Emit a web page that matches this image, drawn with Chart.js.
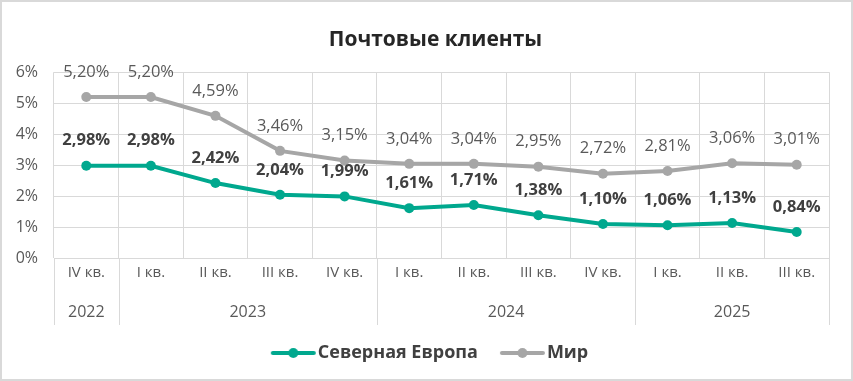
<!DOCTYPE html>
<html><head><meta charset="utf-8">
<script src="https://cdn.jsdelivr.net/npm/chart.js@4/dist/chart.umd.min.js"></script>
<style>html,body{margin:0;padding:0;background:#fff;}#wrap{width:853px;height:381px;position:relative;}</style>
</head><body><div id="wrap"><canvas id="c" width="853" height="381"></canvas></div>
<script>
const quarterLabels = ['IV кв.','I кв.','II кв.','III кв.','IV кв.','I кв.','II кв.','III кв.','IV кв.','I кв.','II кв.','III кв.'];
const yearLabels = ['2022','2023','2024','2025'];
const yearSpans = [1,4,4,3];
const northEurope = [2.98,2.98,2.42,2.04,1.99,1.61,1.71,1.38,1.10,1.06,1.13,0.84];
const world = [5.20,5.20,4.59,3.46,3.15,3.04,3.04,2.95,2.72,2.81,3.06,3.01];
const yTicks = [0,1,2,3,4,5,6];

const FONT = "'Open Sans', sans-serif";
const TEAL = '#00A88E';
const GRAY = '#A6A6A6';
const GRID = '#D9D9D9';
const TXT = '#595959';

function legendIcon(color){
  const c = document.createElement('canvas');
  c.width = 64; c.height = 12;
  const g = c.getContext('2d');
  g.strokeStyle = color; g.lineWidth = 4; g.lineCap = 'round';
  g.beginPath(); g.moveTo(19,6); g.lineTo(60,6); g.stroke();
  g.fillStyle = color; g.beginPath(); g.arc(39.5,6,5,0,Math.PI*2); g.fill();
  return c;
}
const fmt = v => v.toFixed(2).replace('.', ',') + '%';

const borderPlugin = {
  id:'border',
  afterLayout(chart){
    if (chart.titleBlock) { chart.titleBlock.left += 21; chart.titleBlock.right += 21; }
    if (chart.legend) { chart.legend.left += 11; chart.legend.right += 11; }
  },
  beforeDraw(chart){
    const ctx = chart.ctx;
    ctx.save();
    ctx.strokeStyle = GRID; ctx.lineWidth = 2;
    ctx.strokeRect(1,1,chart.width-2,chart.height-2);
    ctx.restore();
  }
};

const axisPlugin = {
  id:'multiAxis',
  afterDraw(chart){
    const ctx = chart.ctx, x = chart.scales.x, a = chart.chartArea;
    const step = (a.right - a.left) / quarterLabels.length;
    ctx.save();
    ctx.fillStyle = TXT;
    ctx.font = "15px " + FONT;
    ctx.textAlign = 'center'; ctx.textBaseline = 'middle';
    quarterLabels.forEach((q,i)=>{
      ctx.fillText(q, x.getPixelForValue(i), a.bottom + 15);
    });
    ctx.font = "16px " + FONT;
    ctx.strokeStyle = GRID; ctx.lineWidth = 1;
    let idx = 0;
    const bottom = a.bottom + 67;
    const drawV = px => { ctx.beginPath(); ctx.moveTo(Math.round(px)+0.5, a.bottom); ctx.lineTo(Math.round(px)+0.5, bottom); ctx.stroke(); };
    drawV(a.left);
    yearLabels.forEach((y,k)=>{
      const start = a.left + idx*step;
      idx += yearSpans[k];
      const end = a.left + idx*step;
      drawV(end);
      ctx.fillText(y, (start+end)/2, a.bottom + 54);
    });
    ctx.restore();
  }
};

const labelPlugin = {
  id:'valueLabels',
  afterDatasetsDraw(chart){
    const ctx = chart.ctx;
    ctx.save();
    ctx.textAlign = 'center'; ctx.textBaseline = 'middle';
    chart.data.datasets.forEach((ds,di)=>{
      const meta = chart.getDatasetMeta(di);
      ctx.font = (di===0 ? "bold " : "") + "16.5px " + FONT;
      ctx.fillStyle = di===0 ? '#404040' : TXT;
      meta.data.forEach((pt,i)=>{
        ctx.fillText(fmt(ds.data[i]), pt.x, pt.y - 25);
      });
    });
    ctx.restore();
  }
};

new Chart(document.getElementById('c'), {
  type:'line',
  data:{
    labels: quarterLabels,
    datasets:[
      {label:'Северная Европа', data:northEurope, borderColor:TEAL, backgroundColor:TEAL, borderWidth:4, pointRadius:5, pointBackgroundColor:TEAL, pointBorderWidth:0, tension:0},
      {label:'Мир', data:world, borderColor:GRAY, backgroundColor:GRAY, borderWidth:4, pointRadius:5, pointBackgroundColor:GRAY, pointBorderWidth:0, tension:0}
    ]
  },
  options:{
    responsive:false, animation:false,
    layout:{padding:{left:0,right:24,top:6,bottom:9}},
    plugins:{
      title:{display:true, text:'Почтовые клиенты', color:'#262626', font:{family:FONT, size:21, weight:'bold'}, padding:{top:21,bottom:20}},
      legend:{position:'bottom', labels:{
        usePointStyle:true, pointStyleWidth:46, color:'#404040', font:{family:FONT, size:18, weight:'bold'}, padding:14,
        generateLabels(chart){
          return chart.data.datasets.map((ds,i)=>({text:ds.label, pointStyle:legendIcon(ds.borderColor), fillStyle:ds.borderColor, strokeStyle:ds.borderColor, lineWidth:0, datasetIndex:i, fontColor:'#404040'}));
        }
      }},
      tooltip:{enabled:false}
    },
    scales:{
      x:{
        offset:true,
        grid:{offset:true, color:GRID, lineWidth:1, drawTicks:false},
        border:{display:true, color:GRID},
        ticks:{display:false},
        afterFit(s){ s.height = 72; }
      },
      y:{
        min:0, max:6,
        afterBuildTicks(s){ s.ticks = yTicks.map(v=>({value:v})); },
        grid:{color:GRID, lineWidth:1, drawTicks:false},
        border:{display:false},
        ticks:{color:TXT, font:{family:FONT, size:16}, padding:16, callback:v=>v+'%'},
        afterFit(s){ s.width = 54; }
      }
    }
  },
  plugins:[borderPlugin, axisPlugin, labelPlugin]
});
</script></body></html>
